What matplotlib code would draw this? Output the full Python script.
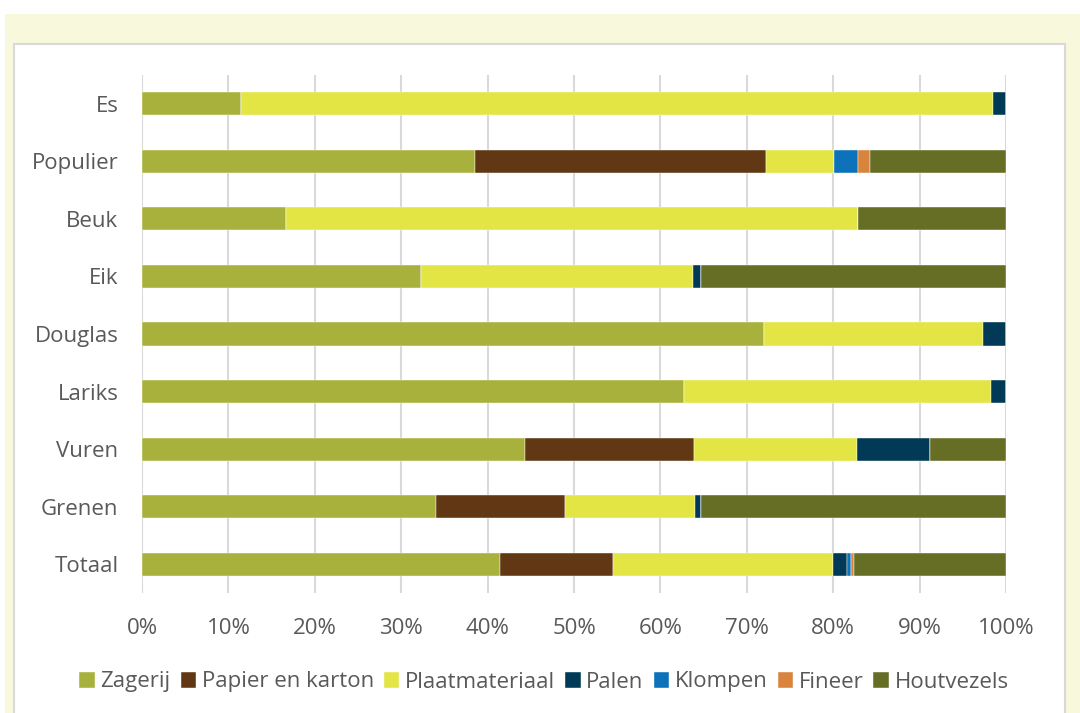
import numpy as np
import matplotlib.pyplot as plt
from matplotlib.patches import Rectangle

plt.rcParams['font.family'] = ['Open Sans', 'DejaVu Sans']

soorten = ['Es', 'Populier', 'Beuk', 'Eik', 'Douglas', 'Lariks', 'Vuren', 'Grenen', 'Totaal']

# aandeel per verwerkingsrichting (%)
zagerij    = [11.5, 38.5, 16.7, 32.3, 72.0, 62.7, 44.3, 34.0, 41.4]
papier     = [0.0, 33.7, 0.0, 0.0, 0.0, 0.0, 19.6, 15.0, 13.1]
plaat      = [87.0, 7.9, 66.2, 31.5, 25.3, 35.6, 18.9, 15.0, 25.5]
palen      = [1.5, 0.0, 0.0, 0.9, 2.7, 1.7, 8.4, 0.7, 1.6]
klompen    = [0.0, 2.8, 0.0, 0.0, 0.0, 0.0, 0.0, 0.0, 0.5]
fineer     = [0.0, 1.4, 0.0, 0.0, 0.0, 0.0, 0.0, 0.0, 0.3]
houtvezels = [0.0, 15.7, 17.1, 35.3, 0.0, 0.0, 8.8, 35.3, 17.6]

reeksen = [
    ('Zagerij', zagerij, '#a8b13b'),
    ('Papier en karton', papier, '#623714'),
    ('Plaatmateriaal', plaat, '#e3e545'),
    ('Palen', palen, '#003a57'),
    ('Klompen', klompen, '#0d72b9'),
    ('Fineer', fineer, '#d9843c'),
    ('Houtvezels', houtvezels, '#666d25'),
]

W, H = 1080, 713
fig = plt.figure(figsize=(W / 100, H / 100), dpi=100)

# achtergrond: creme kader met wit paneel
fig.patches.append(Rectangle((5 / W, 0), 1 - 5 / W, 1 - 14 / H, transform=fig.transFigure,
                             facecolor='#f7f8dc', edgecolor='none', zorder=-3))
fig.patches.append(Rectangle((14 / W, -0.01), (1065 - 14) / W, 1 - 44 / H + 0.01,
                             transform=fig.transFigure, facecolor='white',
                             edgecolor='#d9d9d9', linewidth=1.5, zorder=-2))

ax = fig.add_axes([142 / W, (H - 593) / H, 864 / W, 518 / H])
ax.set_facecolor('none')

y = np.arange(len(soorten))[::-1]
links = np.zeros(len(soorten))
for naam, vals, kleur in reeksen:
    vals = np.array(vals)
    ax.barh(y, vals, left=links, height=0.4, color=kleur, label=naam,
            edgecolor='white', linewidth=0.3, zorder=3)
    links += vals

ax.set_xlim(0, 100)
ax.set_ylim(-0.5, len(soorten) - 0.5)
ax.set_xticks(np.arange(0, 101, 10))
ax.set_xticklabels([f'{v}%' for v in range(0, 101, 10)])
ax.set_yticks(y)
ax.set_yticklabels(soorten)
ax.grid(axis='x', color='#d9d9d9', linewidth=1.5, zorder=0)
ax.tick_params(length=0, labelsize=16, labelcolor='#595959')
ax.tick_params(axis='y', pad=17)
ax.tick_params(axis='x', pad=18)
for s in ax.spines.values():
    s.set_visible(False)

fig.legend(loc='center', bbox_to_anchor=(544 / W, 1 - 682 / H), ncol=7, frameon=False,
           fontsize=16, labelcolor='#595959', handlelength=0.7, handleheight=0.7,
           handletextpad=0.25, columnspacing=0.45)

fig.savefig('out.png', dpi=100)
